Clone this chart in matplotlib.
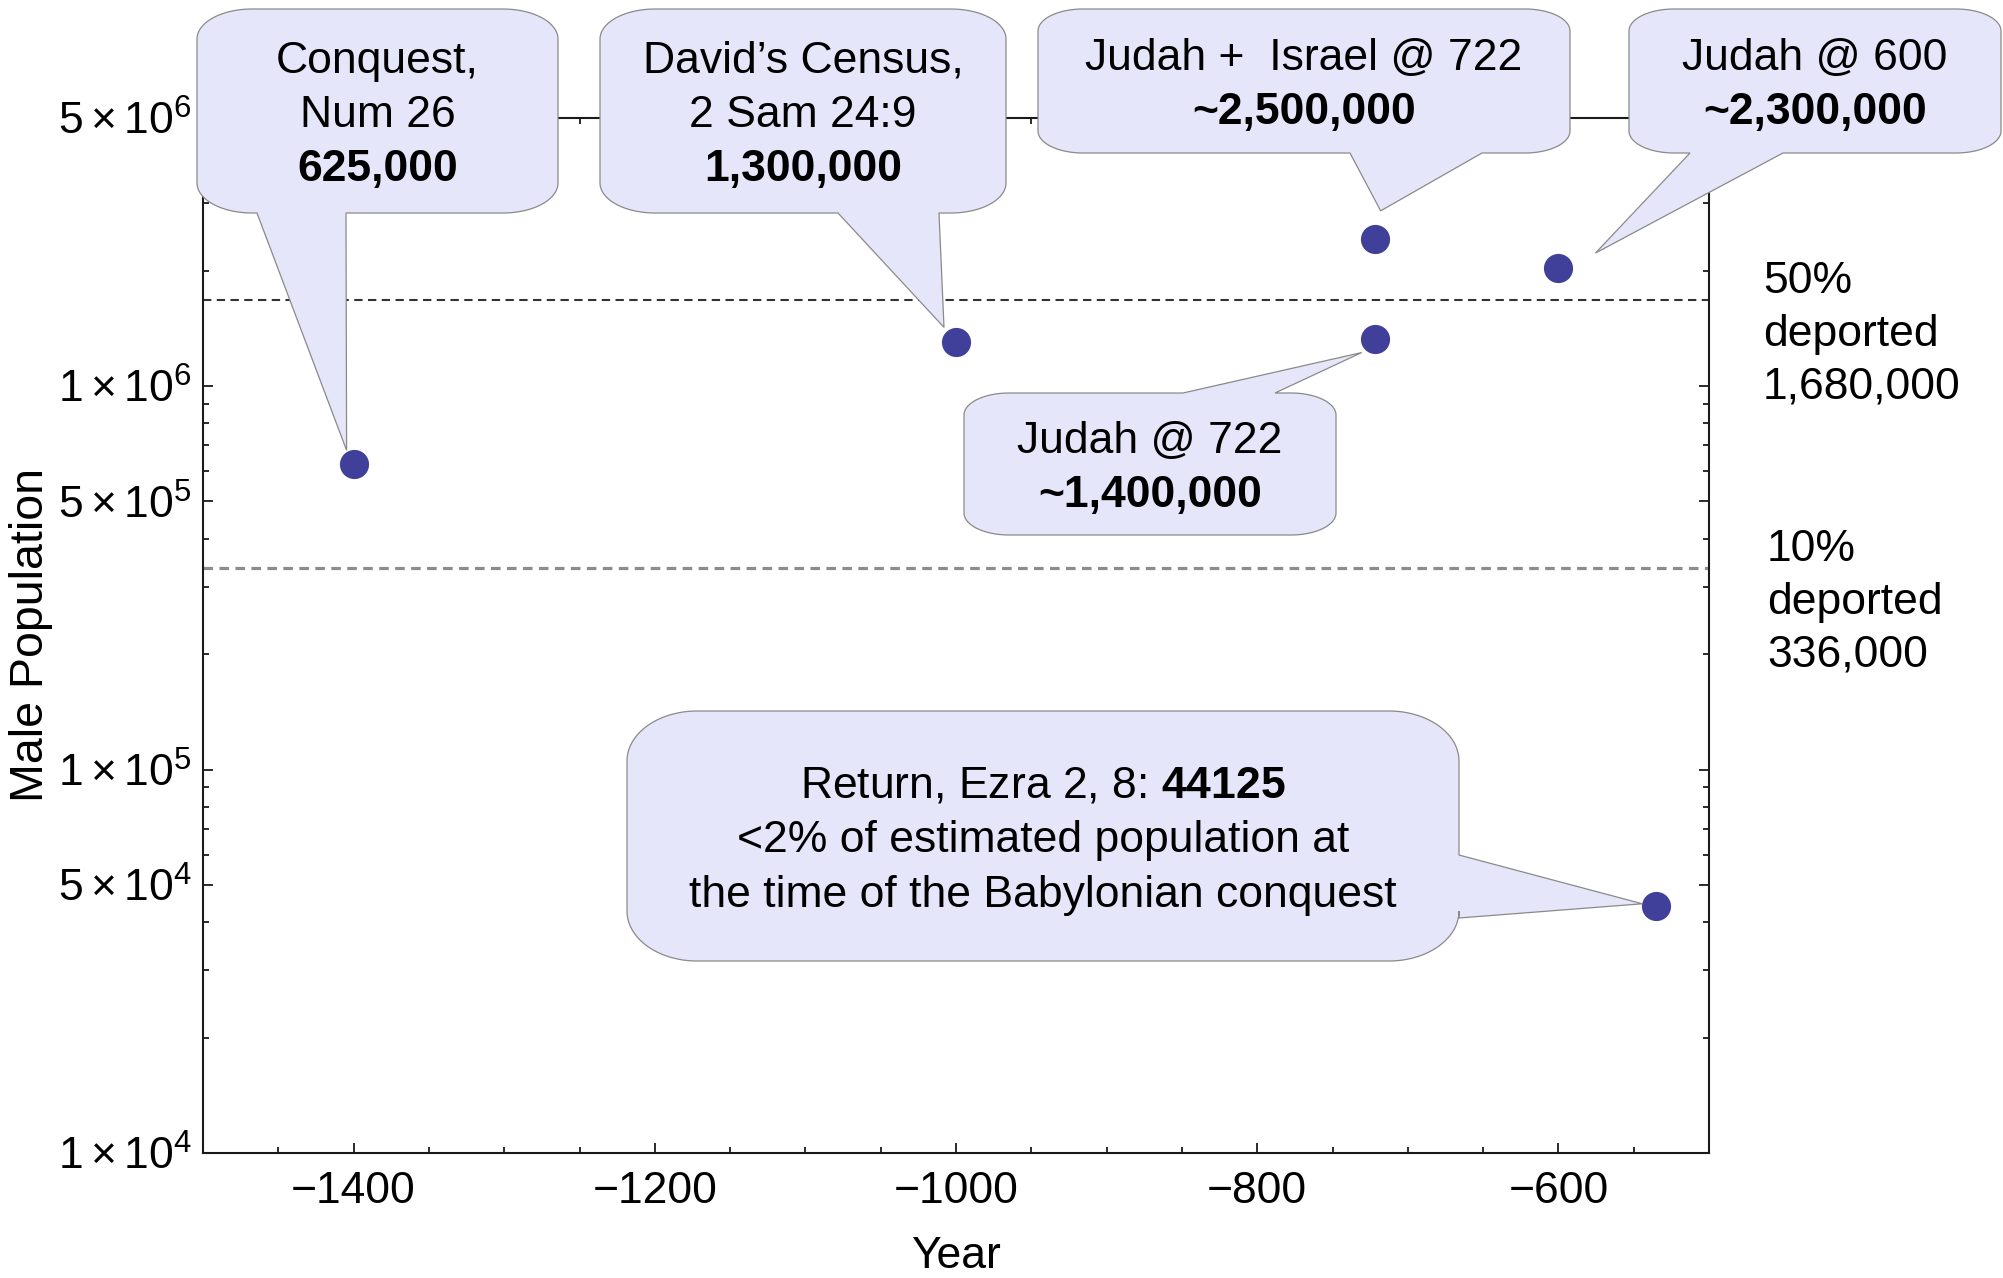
import numpy as np
import matplotlib
matplotlib.use('Agg')
import matplotlib.pyplot as plt
from matplotlib.path import Path
from matplotlib.patches import PathPatch
from matplotlib.ticker import FixedLocator, FixedFormatter, NullFormatter, MultipleLocator

plt.rcParams['font.family'] = ['Liberation Sans', 'DejaVu Sans']
plt.rcParams['mathtext.fontset'] = 'custom'
plt.rcParams['mathtext.rm'] = 'Liberation Sans'
plt.rcParams['mathtext.it'] = 'Liberation Sans:italic'
plt.rcParams['mathtext.bf'] = 'Liberation Sans:bold'

W, H = 2003, 1278

# data
years = [-1400, -1000, -722, -722, -600, -535]
males = [625000, 1300000, 2420000, 1330000, 2030000, 44125]
deport_levels = [1680000, 336000]
deport_text = ['50%\ndeported\n1,680,000', '10%\ndeported\n336,000']

ytick_vals = [1e4, 5e4, 1e5, 5e5, 1e6, 5e6]
ytick_labels = [r'$1\times10^{4}$', r'$5\times10^{4}$', r'$1\times10^{5}$',
                r'$5\times10^{5}$', r'$1\times10^{6}$', r'$5\times10^{6}$']
xtick_vals = [-1400, -1200, -1000, -800, -600]

# callouts: text lines (text, bold?) and which point they point to
notes = [
    ([('Conquest,', False), ('Num 26', False), ('625,000', True)], 0),
    ([('David\u2019s Census,', False), ('2 Sam 24:9', False), ('1,300,000', True)], 1),
    ([('Judah +  Israel @ 722', False), ('~2,500,000', True)], 2),
    ([('Judah @ 600', False), ('~2,300,000', True)], 4),
    ([('Judah @ 722', False), ('~1,400,000', True)], 3),
    ([(r'Return, Ezra 2, 8: $\mathbf{44125}$', False),
      ('<2% of estimated population at', False),
      ('the time of the Babylonian conquest', False)], 5),
]

# balloon layout in image pixels: box, corner radii, tail side, tail base, tip offset
layout = [
    dict(box=(197, 9, 558, 213), r=(55, 30), side='bottom', base=(257, 346), off=(-7, -14)),
    dict(box=(600, 9, 1006, 213), r=(55, 30), side='bottom', base=(838, 939), off=(-12, -15)),
    dict(box=(1038, 9, 1570, 153), r=(45, 22), side='bottom', base=(1350, 1482), off=(6, -28)),
    dict(box=(1629, 9, 2001, 153), r=(45, 22), side='bottom', base=(1690, 1783), off=(37, -15)),
    dict(box=(964, 393, 1336, 535), r=(45, 22), side='top', base=(1183, 1275), off=(-13, 14)),
    dict(box=(627, 711, 1459, 961), r=(70, 50), side='right', base=(855, 918), off=(-14, -2)),
]


def balloon(box, r, side, base, tip):
    x0, y0, x1, y1 = box
    rx, ry = r

    def arc(cx, cy, a0, a1):
        t = np.radians(np.linspace(a0, a1, 24))
        return list(zip(cx + rx * np.cos(t), cy + ry * np.sin(t)))

    pts = [(x0 + rx, y0)]
    if side == 'top':
        pts += [(base[0], y0), tip, (base[1], y0)]
    pts += arc(x1 - rx, y0 + ry, -90, 0)
    if side == 'right':
        pts += [(x1, base[0]), tip, (x1, base[1])]
    pts += arc(x1 - rx, y1 - ry, 0, 90)
    if side == 'bottom':
        pts += [(base[1], y1), tip, (base[0], y1)]
    pts += arc(x0 + rx, y1 - ry, 90, 180)
    pts += arc(x0 + rx, y0 + ry, 180, 270)
    pts.append(pts[0])
    verts = [(x / W, 1 - y / H) for x, y in pts]
    return Path(verts, closed=True)


fig = plt.figure(figsize=(W / 100, H / 100), dpi=100)
ax = fig.add_axes([203 / W, 1 - 1153 / H, (1709 - 203) / W, (1153 - 118) / H])
ax.set_yscale('log')
ax.set_xlim(-1500, -500)
ax.set_ylim(1e4, 5e6)

ax.axhline(deport_levels[0], color='#333333', lw=1.5, ls=(0, (4, 2.6)), zorder=1)
ax.axhline(deport_levels[1], color='#8c8c8c', lw=2.3, ls=(0, (3, 2)), zorder=1)
ax.plot(years, males, 'o', ms=21, color='#40409a', mec='none', zorder=3)

ax.yaxis.set_major_locator(FixedLocator(ytick_vals))
ax.yaxis.set_major_formatter(FixedFormatter(ytick_labels))
minor = [m * 10 ** k for k in (4, 5, 6) for m in (2, 3, 4, 6, 7, 8, 9) if m * 10 ** k < 5e6]
ax.yaxis.set_minor_locator(FixedLocator(minor))
ax.yaxis.set_minor_formatter(NullFormatter())
ax.set_xticks(xtick_vals)
ax.xaxis.set_minor_locator(MultipleLocator(50))

for s in ax.spines.values():
    s.set_linewidth(1.5)
    s.set_color('#1a1a1a')
ax.tick_params(which='both', direction='in', top=True, right=True, width=1.3, color='#1a1a1a')
ax.tick_params(which='major', length=7)
ax.tick_params(which='minor', length=4.5)
ax.tick_params(axis='x', which='major', labelsize=32, pad=13)
ax.tick_params(axis='y', which='major', labelsize=32, pad=8)

ax.set_xlabel('Year', fontsize=32, va='center')
ax.xaxis.set_label_coords(0.5, (1153 - 1256) / 1035)
ax.set_ylabel('Male Population', fontsize=33.5, va='center')
ax.yaxis.set_label_coords((31 - 203) / 1506, 0.5)

# balloons drawn on top of the frame
for (lines, idx), lay in zip(notes, layout):
    px, py = ax.transData.transform((years[idx], males[idx]))
    tip = (px + lay['off'][0], H - py + lay['off'][1])
    path = balloon(lay['box'], lay['r'], lay['side'], lay['base'], tip)
    fig.patches.append(PathPatch(path, transform=fig.transFigure, facecolor='#e6e6fa',
                                 edgecolor='#8a8a8a', lw=0.9, zorder=5))
    x0, y0, x1, y1 = lay['box']
    cx, cy = (x0 + x1) / 2, (y0 + y1) / 2
    n = len(lines)
    for i, (txt, bold) in enumerate(lines):
        yc = cy + (i - (n - 1) / 2) * 54.5
        fig.text(cx / W, 1 - (yc + 16) / H, txt, ha='center', va='baseline', fontsize=32,
                 weight='bold' if bold else 'normal', zorder=6)

# deportation notes to the right of the frame
for txt, (x, y) in zip(deport_text, [(1763, 277), (1767, 545)]):
    for i, ln in enumerate(txt.split('\n')):
        fig.text(x / W, 1 - (y + i * 53 + 16) / H, ln, ha='left', va='baseline', fontsize=32)

fig.savefig('out.png', dpi=100)
